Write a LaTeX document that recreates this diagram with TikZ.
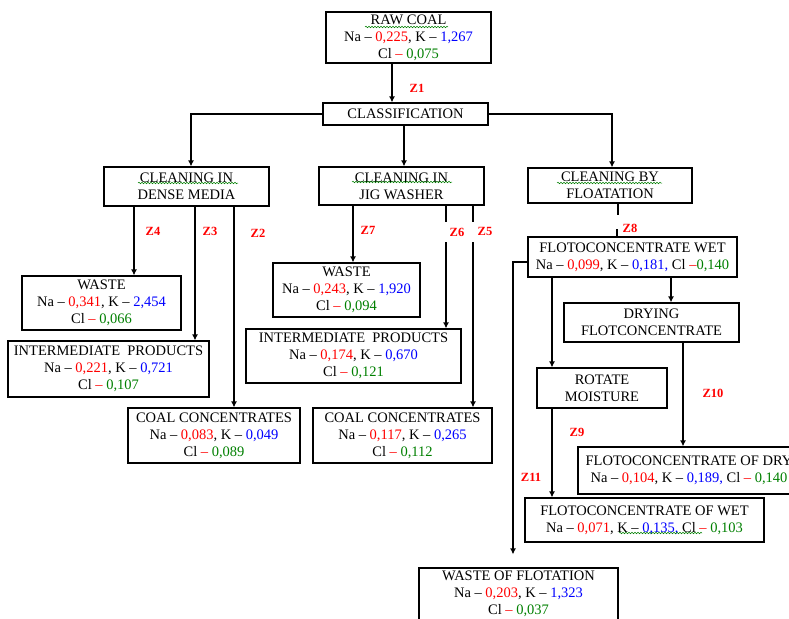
\documentclass[tikz,border=0pt]{standalone}
\usepackage{fontspec}
\setmainfont{Liberation Serif}
\usetikzlibrary{arrows.meta,decorations.pathmorphing}
\definecolor{vred}{RGB}{255,0,0}
\definecolor{vblue}{RGB}{0,0,255}
\definecolor{vgreen}{RGB}{0,128,0}
\newcommand{\cR}[1]{\textcolor{vred}{#1}}
\newcommand{\cB}[1]{\textcolor{vblue}{#1}}
\newcommand{\cG}[1]{\textcolor{vgreen}{#1}}
\begin{document}
\begin{tikzpicture}[x=1pt,y=-1pt,
  box/.style={draw, line width=1.2pt, align=center, inner sep=0pt, font=\fontsize{14.5}{17}\selectfont},
  arr/.style={line width=1.2pt, -{Latex[length=6pt,width=6pt]}},
  ln/.style={line width=1.2pt},
  zl/.style={text=vred, font=\fontsize{12.5}{12.5}\selectfont\bfseries, inner sep=0pt},
  squig/.style={vgreen, line width=0.5pt, decorate, decoration={snake, amplitude=0.8pt, segment length=3pt}}]
\useasboundingbox (0,0) rectangle (789,618);
\fill[white] (0,0) rectangle (789,618);

% boxes
\node[box, minimum width=165pt, minimum height=51pt] (raw) at (408.5,37.5) {RAW COAL\\Na – \cR{0,225}, K – \cB{1,267}\\Cl \cR{–} \cG{0,075}};
\node[box, minimum width=165pt, minimum height=22pt] (cls) at (405.5,114) {CLASSIFICATION};
\node[box, minimum width=165pt, minimum height=39pt] (dense) at (186.5,186.5) {CLEANING IN\\DENSE MEDIA};
\node[box, minimum width=165pt, minimum height=38pt] (jig) at (401.5,186) {CLEANING IN\\JIG WASHER};
\node[box, minimum width=164pt, minimum height=35pt] (flot) at (610,185.5) {CLEANING BY\\FLOATATION};

\node[box, minimum width=159pt, minimum height=54pt] (waste1) at (101.5,303) {WASTE\\Na – \cR{0,341}, K – \cB{2,454}\\Cl \cR{–} \cG{0,066}};
\node[box, minimum width=201pt, minimum height=56pt] (inter1) at (108.5,369) {INTERMEDIATE\ \ PRODUCTS\\Na – \cR{0,221}, K – \cB{0,721}\\Cl \cR{–} \cG{0,107}};
\node[box, minimum width=172pt, minimum height=55pt] (coal1) at (214,435.5) {COAL CONCENTRATES\\Na – \cR{0,083}, K – \cB{0,049}\\Cl \cR{–} \cG{0,089}};

\node[box, minimum width=147pt, minimum height=54pt] (waste2) at (346.5,290) {WASTE\\Na – \cR{0,243}, K – \cB{1,920}\\Cl \cR{–} \cG{0,094}};
\node[box, minimum width=215pt, minimum height=54pt] (inter2) at (353.5,356) {INTERMEDIATE\ \ PRODUCTS\\Na – \cR{0,174}, K – \cB{0,670}\\Cl \cR{–} \cG{0,121}};
\node[box, minimum width=179pt, minimum height=55pt] (coal2) at (402.5,435.5) {COAL CONCENTRATES\\Na – \cR{0,117}, K – \cB{0,265}\\Cl \cR{–} \cG{0,112}};

\node[box, minimum width=209pt, minimum height=40pt] (fwet) at (632.5,257) {FLOTOCONCENTRATE WET\\Na – \cR{0,099}, K – \cB{0,181,} Cl \cR{–}\cG{0,140}};
\node[box, minimum width=175pt, minimum height=39pt] (dry) at (651.5,322.5) {DRYING\\FLOTCONCENTRATE};
\node[box, minimum width=130pt, minimum height=40pt] (rot) at (602,388) {ROTATE\\MOISTURE};
\node[box, minimum width=222pt, minimum height=47pt] (fdry) at (689,470.5) {FLOTOCONCENTRATE OF DRY\\Na – \cR{0,104}, K – \cB{0,189,} Cl \cR{–} \cG{0,140}};
\node[box, minimum width=239pt, minimum height=44pt] (fwet2) at (644.5,520) {FLOTOCONCENTRATE OF WET\\Na – \cR{0,071}, K – \cB{0,135,} Cl \cR{–} \cG{0,103}};
\node[box, minimum width=199pt, minimum height=52pt] (wflot) at (518.5,594) {WASTE OF FLOTATION\\Na – \cR{0,203}, K – \cB{1,323}\\Cl \cR{–} \cG{0,037}};

% spell-check squiggles
\draw[squig] (365,27) -- (448,27);
\draw[squig] (138,183) -- (238,183);
\draw[squig] (352,182) -- (452,182);
\draw[squig] (557,183) -- (662,183);
\draw[squig] (619,533) -- (702,533);

% labels
\node[zl] (z1) at (417,88) {Z1};
\node[zl] (z4) at (153,231) {Z4};
\node[zl] (z3) at (210,231) {Z3};
\node[zl] (z2) at (258,233) {Z2};
\node[zl] (z7) at (368,230) {Z7};
\node[zl] (z6) at (457,232) {Z6};
\node[zl] (z5) at (485,231) {Z5};
\node[zl] (z8) at (630,228) {Z8};
\node[zl] (z10) at (713,393) {Z10};
\node[zl] (z9) at (577,432) {Z9};
\node[zl] (z11) at (531,477) {Z11};

% connectors
\draw[arr] (raw.south -| 392,0) -- (cls.north -| 392,0);
\draw[arr] (cls.west) -| (dense.north -| 191,0);
\draw[arr] (cls.east) -| (flot.north -| 612,0);
\draw[arr] (cls.south -| 404,0) -- (jig.north -| 404,0);

\draw[arr] (dense.south -| 134,0) -- (waste1.north -| 134,0);
\draw[arr] (dense.south -| 195,0) -- (inter1.north -| 195,0);
\draw[arr] (dense.south -| 234,0) -- (coal1.north -| 234,0);

\draw[arr] (jig.south -| 353,0) -- (waste2.north -| 353,0);
\coordinate (g6a) at (446,222);
\coordinate (g6b) at (446,242);
\draw[ln] (jig.south -| 446,0) -- (g6a);
\draw[arr] (g6b) -- (inter2.north -| 446,0);
\coordinate (g5a) at (473,222);
\coordinate (g5b) at (473,242);
\draw[ln] (jig.south -| 473,0) -- (g5a);
\draw[arr] (g5b) -- (coal2.north -| 473,0);

\coordinate (g8a) at (618,215);
\coordinate (g8b) at (617,229);
\draw[ln] (flot.south -| 618,0) -- (g8a);
\draw[ln] (g8b) -- (fwet.north -| 617,0);

\draw[arr, shorten >=13pt] (fwet.west |- 0,262) -| (wflot.north -| 513,0);
\draw[arr] (fwet.south -| 552,0) -- (rot.north -| 552,0);
\draw[arr] (fwet.south -| 671,0) -- (dry.north -| 671,0);
\draw[arr] (dry.south -| 683,0) -- (fdry.north -| 683,0);
\draw[arr] (rot.south -| 552,0) -- (fwet2.north -| 552,0);
\end{tikzpicture}
\end{document}
